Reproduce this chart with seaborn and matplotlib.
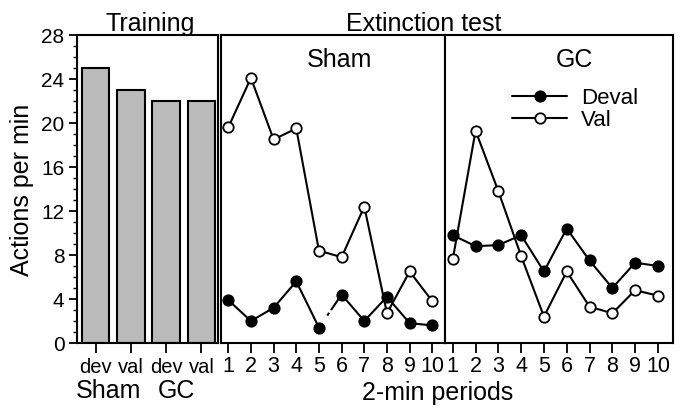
import numpy as np
import pandas as pd
import matplotlib
matplotlib.use('Agg')
import matplotlib.pyplot as plt
from matplotlib.ticker import MultipleLocator
import matplotlib.transforms as mtransforms
import seaborn as sns

# Training bars
train_groups = ['Sham dev', 'Sham val', 'GC dev', 'GC val']
train_ticklabels = ['dev', 'val', 'dev', 'val']
train_rates = [25.0, 23.0, 22.0, 22.0]

# Extinction test, 2-min periods
periods = list(range(1, 11))
sham_deval = [3.9, 2.0, 3.2, 5.6, 1.4, 4.4, 2.0, 4.2, 1.8, 1.6]
sham_val = [19.6, 24.1, 18.5, 19.5, 8.4, 7.8, 12.4, 2.7, 6.5, 3.8]
gc_deval = [9.8, 8.8, 8.9, 9.8, 6.5, 10.4, 7.5, 5.0, 7.3, 7.0]
gc_val = [7.6, 19.3, 13.8, 7.9, 2.4, 6.5, 3.3, 2.7, 4.8, 4.3]

sns.set_style('ticks')
plt.rcParams['font.family'] = ['Liberation Sans', 'DejaVu Sans']
plt.rcParams['text.color'] = 'black'
plt.rcParams['axes.labelcolor'] = 'black'
plt.rcParams['xtick.color'] = 'black'
plt.rcParams['ytick.color'] = 'black'
plt.rcParams['axes.linewidth'] = 1.5
plt.rcParams['xtick.major.width'] = 1.3
plt.rcParams['ytick.major.width'] = 1.3
plt.rcParams['ytick.minor.width'] = 1.0

LABEL_FS = 18
YTICK_FS = 15
XTICK_FS = 15.5
MS = 7.5

fig = plt.figure(figsize=(6.84, 4.10), dpi=100)
bottom, height = 0.161, 0.7512
ax_tr = fig.add_axes([0.1126, bottom, 0.2066, height])
ax_sh = fig.add_axes([0.3231, bottom, 0.3275, height])
ax_gc = fig.add_axes([0.6506, bottom, 0.3333, height])

# --- training panel ---
train_df = pd.DataFrame({'group': train_groups, 'rate': train_rates})
sns.barplot(data=train_df, x='group', y='rate', order=train_groups,
            color='#bababa', saturation=1, edgecolor='black', linewidth=1.5,
            width=0.78, ax=ax_tr)
ax_tr.set_xlim(-0.53, 3.48)
ax_tr.set_ylim(0, 28)
ax_tr.set_yticks(range(0, 29, 4))
ax_tr.yaxis.set_minor_locator(MultipleLocator(1))
ax_tr.tick_params(axis='y', which='major', length=6, labelsize=YTICK_FS, pad=3)
ax_tr.tick_params(axis='y', which='minor', length=3)
ax_tr.set_xticks(range(len(train_groups)))
ax_tr.set_xticklabels(train_ticklabels)
ax_tr.tick_params(axis='x', length=7, labelsize=14.5, pad=3)
ax_tr.set_xlabel('')
ax_tr.set_ylabel('Actions per min', fontsize=LABEL_FS, labelpad=5)
trans = mtransforms.blended_transform_factory(ax_tr.transData, ax_tr.transAxes)
ax_tr.text(0.35, -0.175, 'Sham', transform=trans, ha='center', va='baseline',
           fontsize=LABEL_FS)
ax_tr.text(2.28, -0.175, 'GC', transform=trans, ha='center', va='baseline',
           fontsize=LABEL_FS)

line_kw = dict(color='black', linewidth=1.5, marker='o', markersize=MS,
               markeredgecolor='black', markeredgewidth=1.3)


def finish_panel(ax, title, title_x, xlim):
    ax.set_xlim(*xlim)
    ax.set_ylim(0, 28)
    ax.set_xticks(periods)
    ax.set_yticks([])
    ax.tick_params(axis='x', length=7, labelsize=XTICK_FS, pad=2)
    ax.set_xlabel('')
    ax.set_ylabel('')
    ax.text(title_x, 0.90, title, transform=ax.transAxes, ha='center',
            va='baseline', fontsize=LABEL_FS)


# --- Sham panel (deval line has a broken segment between periods 5 and 6) ---
sns.lineplot(x=periods, y=sham_val, ax=ax_sh, markerfacecolor='white',
             zorder=3, **line_kw)
sns.lineplot(x=periods[:5], y=sham_deval[:5], ax=ax_sh,
             markerfacecolor='black', zorder=4, **line_kw)
sns.lineplot(x=periods[5:], y=sham_deval[5:], ax=ax_sh,
             markerfacecolor='black', zorder=4, **line_kw)
ax_sh.plot(periods[4:6], sham_deval[4:6], color='black', linewidth=1.5,
           linestyle=(12.3, (1.6, 1.6, 9.1, 7.0)), zorder=2)
finish_panel(ax_sh, 'Sham', 0.531, (0.68, 10.56))

# --- GC panel ---
sns.lineplot(x=periods, y=gc_val, ax=ax_gc, markerfacecolor='white',
             label='Val', zorder=3, **line_kw)
sns.lineplot(x=periods, y=gc_deval, ax=ax_gc, markerfacecolor='black',
             label='Deval', zorder=4, **line_kw)
finish_panel(ax_gc, 'GC', 0.566, (0.66, 10.66))

handles, labels = ax_gc.get_legend_handles_labels()
order = [labels.index('Deval'), labels.index('Val')]
ax_gc.legend([handles[i] for i in order], [labels[i] for i in order],
             loc='upper left', bbox_to_anchor=(0.293, 0.83), frameon=False,
             fontsize=16, handlelength=2.5, handletextpad=0.6,
             labelspacing=0.05, borderpad=0, borderaxespad=0)

for ax in (ax_tr, ax_sh, ax_gc):
    for s in ax.spines.values():
        s.set_visible(True)
        s.set_color('black')
        s.set_linewidth(1.5)

fig.text(150 / 684, 1 - 31 / 410, 'Training', ha='center', va='baseline',
         fontsize=LABEL_FS)
fig.text(424 / 684, 1 - 31 / 410, 'Extinction test', ha='center',
         va='baseline', fontsize=LABEL_FS)
fig.text(438 / 684, 1 - 400 / 410, '2-min periods', ha='center',
         va='baseline', fontsize=LABEL_FS)

fig.savefig('out.png', dpi=100)
